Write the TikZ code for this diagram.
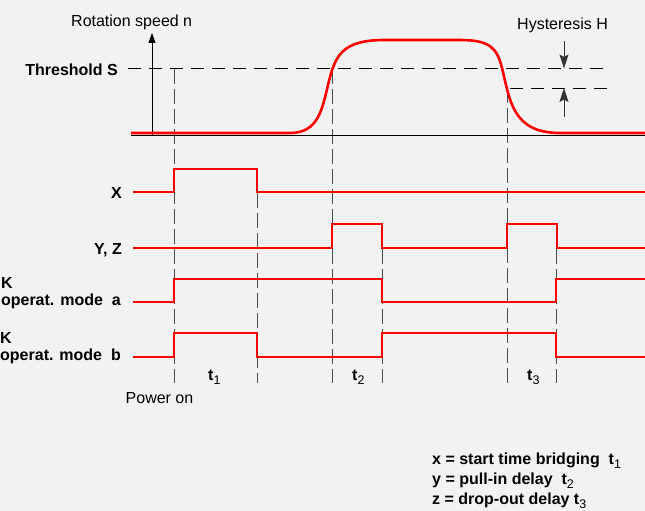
\documentclass[tikz,border=0pt]{standalone}
\usepackage{fontspec}
\setmainfont{Liberation Sans}
\usetikzlibrary{arrows.meta}
\definecolor{bgc}{HTML}{F2F2F2}
\definecolor{sigred}{HTML}{FF0000}
\definecolor{dgray}{HTML}{4A4A4A}
\newcommand{\tsub}[1]{\raisebox{-0.28em}{\fontsize{12.5}{13}\selectfont\mdseries #1}}
\begin{document}
\begin{tikzpicture}[x=1pt,y=-1pt,
  sig/.style={draw=sigred, line width=2.2pt, line join=miter},
  curve/.style={draw=sigred, line width=2.6pt},
  hdash/.style={draw=black, line width=0.9pt, dash pattern=on 13pt off 8pt},
  vdash/.style={draw=dgray, line width=1pt, dash pattern=on 15pt off 5pt},
  lbl/.style={font=\fontsize{16}{19}\selectfont\bfseries, inner sep=0pt},
  txt/.style={font=\fontsize{16}{19}\selectfont, inner sep=0pt},
  axisline/.style={draw=black, line width=0.9pt},
  harrow/.style={draw=black!80, line width=1pt, -{Stealth[length=14pt,width=9pt,inset=2.5pt]}}
]
\fill[bgc] (0,0) rectangle (645,511);
\useasboundingbox (0,0) rectangle (645,511);

% named time instants
\coordinate (tA) at (174,0);
\coordinate (tB) at (257,0);
\coordinate (tC) at (332,0);
\coordinate (tD) at (382,0);
\coordinate (tE) at (507,0);
\coordinate (tF) at (556,0);

% vertical dashed guide lines
\draw[vdash] (174,68.5) -- (174,383);
\draw[vdash] (257,193) -- (257,383);
\draw[vdash] (332,68.5) -- (332,383);
\draw[vdash] (382,249) -- (382,383);
\draw[vdash] (507,88) -- (507,383);
\draw[vdash] (556,249) -- (556,383);

% threshold and hysteresis lines
\coordinate (thL) at (128,68.5);
\coordinate (thR) at (610,68.5);
\coordinate (hyL) at (510,88);
\coordinate (hyR) at (610,88);
\draw[hdash] (thL) -- (thR);
\draw[hdash] (hyL) -- (hyR);

% axes
\coordinate (baseL) at (131,135);
\coordinate (baseR) at (645,135);
\coordinate (axO) at (152,135);
\coordinate (axT) at (152,33);
\draw[axisline] (baseL) -- (baseR);
\draw[axisline, -{Triangle[length=10pt,width=7pt]}] (axO) -- (axT);

% hysteresis arrows
\coordinate (haT) at (564,41);
\coordinate (haTe) at (564,68.5);
\coordinate (haB) at (564,117);
\coordinate (haBe) at (564,88);
\draw[harrow] (haT) -- (haTe);
\draw[harrow] (haB) -- (haBe);

% speed curve
\draw[curve] (131,133) -- (290,133)
  .. controls (318,133) and (322,110) .. (328,85)
  .. controls (335,55) and (342,40) .. (385,40)
  -- (460,40)
  .. controls (490,40) and (497,48) .. (502,68)
  .. controls (510,100) and (512,133) .. (560,133)
  -- (645,133);

% signals
\draw[sig] (133,192) -- (174,192) -- (174,169) -- (257,169) -- (257,192) -- (645,192);
\draw[sig] (133,248) -- (332,248) -- (332,224) -- (382,224) -- (382,248) -- (507,248) -- (507,224) -- (557,224) -- (557,248) -- (645,248);
\draw[sig] (133,302) -- (174,302) -- (174,279) -- (382,279) -- (382,302) -- (556,302) -- (556,279) -- (645,279);
\draw[sig] (133,357) -- (174,357) -- (174,333) -- (257,333) -- (257,357) -- (382,357) -- (382,333) -- (556,333) -- (556,357) -- (645,357);

% labels
\node[txt, anchor=base west] (rot) at (71,27) {Rotation speed n};
\node[txt, anchor=base west] (hys) at (517,29.5) {Hysteresis H};
\node[lbl, anchor=base east] (thr) at (118,75.5) {Threshold S};
\node[lbl, anchor=base east] (lx) at (122,198.5) {X};
\node[lbl, anchor=base east] (lyz) at (122,254) {Y, Z};
\node[lbl, anchor=base east] (opa) at (121,305) {operat. mode\ \ a};
\node[lbl, anchor=base west] (ka) at ([yshift=17pt]opa.base west) {K};
\node[lbl, anchor=base east] (opb) at (121,360.5) {operat. mode\ \ b};
\node[lbl, anchor=base west] (kb) at ([yshift=17pt]opb.base west) {K};
\node[txt, anchor=base] (pwr) at (159.5,403) {Power on};
\node[lbl, anchor=base west] (t1) at (208,380) {t\tsub{1}};
\node[lbl, anchor=base west] (t2) at (352,380) {t\tsub{2}};
\node[lbl, anchor=base west] (t3) at (527,380) {t\tsub{3}};

% legend
\node[lbl, anchor=base west] (lg1) at (432,464) {x = start time bridging\ \ t\tsub{1}};
\node[lbl, anchor=base west] (lg2) at (432,484) {y = pull-in delay\ \ t\tsub{2}};
\node[lbl, anchor=base west] (lg3) at (432,504) {z = drop-out delay t\tsub{3}};
\end{tikzpicture}
\end{document}
